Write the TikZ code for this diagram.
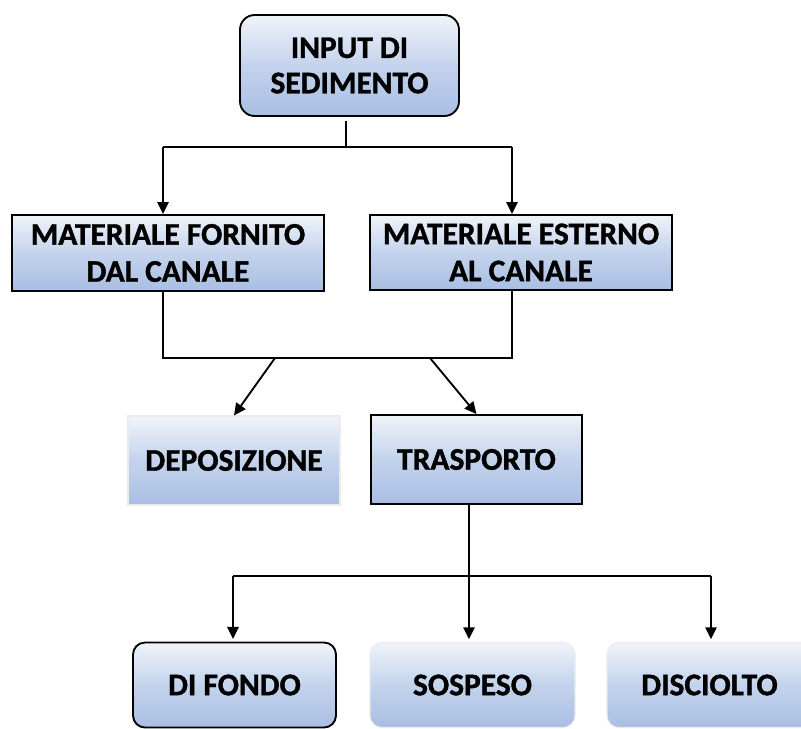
\documentclass[tikz,border=0pt]{standalone}
\usepackage{fontspec}
\setmainfont[BoldFeatures={FakeBold=1.2}]{Carlito}
\usetikzlibrary{arrows.meta}
\definecolor{boxtop}{HTML}{F0F3FA}
\definecolor{boxmid}{HTML}{C4D3EC}
\definecolor{boxbot}{HTML}{A8BEE3}
\begin{document}
\begin{tikzpicture}[x=0.75pt,y=-0.75pt,
  lbl/.style={font=\bfseries\fontsize{23.6}{27.8}\selectfont, align=center, inner sep=0pt},
  grad/.style={top color=boxtop, bottom color=boxbot, middle color=boxmid},
  sqbox/.style={lbl, grad, rectangle, draw=black, line width=1.4pt},
  rbox/.style={sqbox, rounded corners=11pt},
  faint/.style={lbl, grad, rectangle, draw=black!8, line width=0.8pt},
  rfaint/.style={faint, rounded corners=9pt},
  conn/.style={line width=1.4pt, draw=black},
  arr/.style={conn, -{Triangle[length=9pt,width=8.5pt]}}]
\clip (0,0) rectangle (801,729);
\fill[white] (0,0) rectangle (801,729);

\node[rbox, minimum width=164.25pt, minimum height=75.75pt,
  font=\bfseries\fontsize{23.6}{26.5}\selectfont] (inp) at (349.5,65.5) {INPUT DI\\SEDIMENTO};
\node[sqbox, minimum width=234pt, minimum height=57pt] (mf) at (168,253) {MATERIALE FORNITO\\DAL CANALE};
\node[sqbox, minimum width=226.5pt, minimum height=56.25pt] (me) at (521,252.5) {MATERIALE ESTERNO\\AL CANALE};
\node[faint, minimum width=159pt, minimum height=66.75pt] (dep) at (234,460.5) {DEPOSIZIONE};
\node[sqbox, minimum width=158.25pt, minimum height=66.75pt] (tr) at (476.5,459.5) {TRASPORTO};
\node[rbox, rounded corners=9pt, minimum width=152.25pt, minimum height=63.75pt] (fondo) at (234.5,685) {DI FONDO};
\node[rfaint, minimum width=153.75pt, minimum height=63.75pt] (sosp) at (472.5,685) {SOSPESO};
\node[rfaint, minimum width=153.75pt, minimum height=63.75pt] (disc) at (709.5,685) {DISCIOLTO};

% top split
\coordinate (s1) at (346,121);
\coordinate (j1) at (346,147);
\coordinate (jL) at (163,147);
\coordinate (jR) at (512,147);
\draw[conn] (s1) -- (j1);
\draw[conn] (jL) -- (jR);
\draw[arr] (jL) -- (jL |- mf.north);
\draw[arr] (jR) -- (jR |- me.north);

% merge
\coordinate (mL) at (163,358);
\coordinate (mR) at (512,358);
\draw[conn] (mL |- mf.south) -- (mL) -- (mR) -- (mR |- me.south);
\coordinate (d1) at (275,358);
\coordinate (d2) at (430,358);
\draw[arr] (d1) -- (dep.north);
\draw[arr] (d2) -- (tr.north);

% bottom split
\coordinate (b0) at (469,576);
\coordinate (bL) at (233,576);
\coordinate (bR) at (711,576);
\draw[conn] (b0 |- tr.south) -- (b0);
\draw[conn] (bL) -- (bR);
\draw[arr] (bL) -- ([yshift=2pt]bL |- fondo.north);
\draw[arr] (b0) -- ([yshift=2pt]b0 |- sosp.north);
\draw[arr] (bR) -- ([yshift=2pt]bR |- disc.north);
\end{tikzpicture}
\end{document}
